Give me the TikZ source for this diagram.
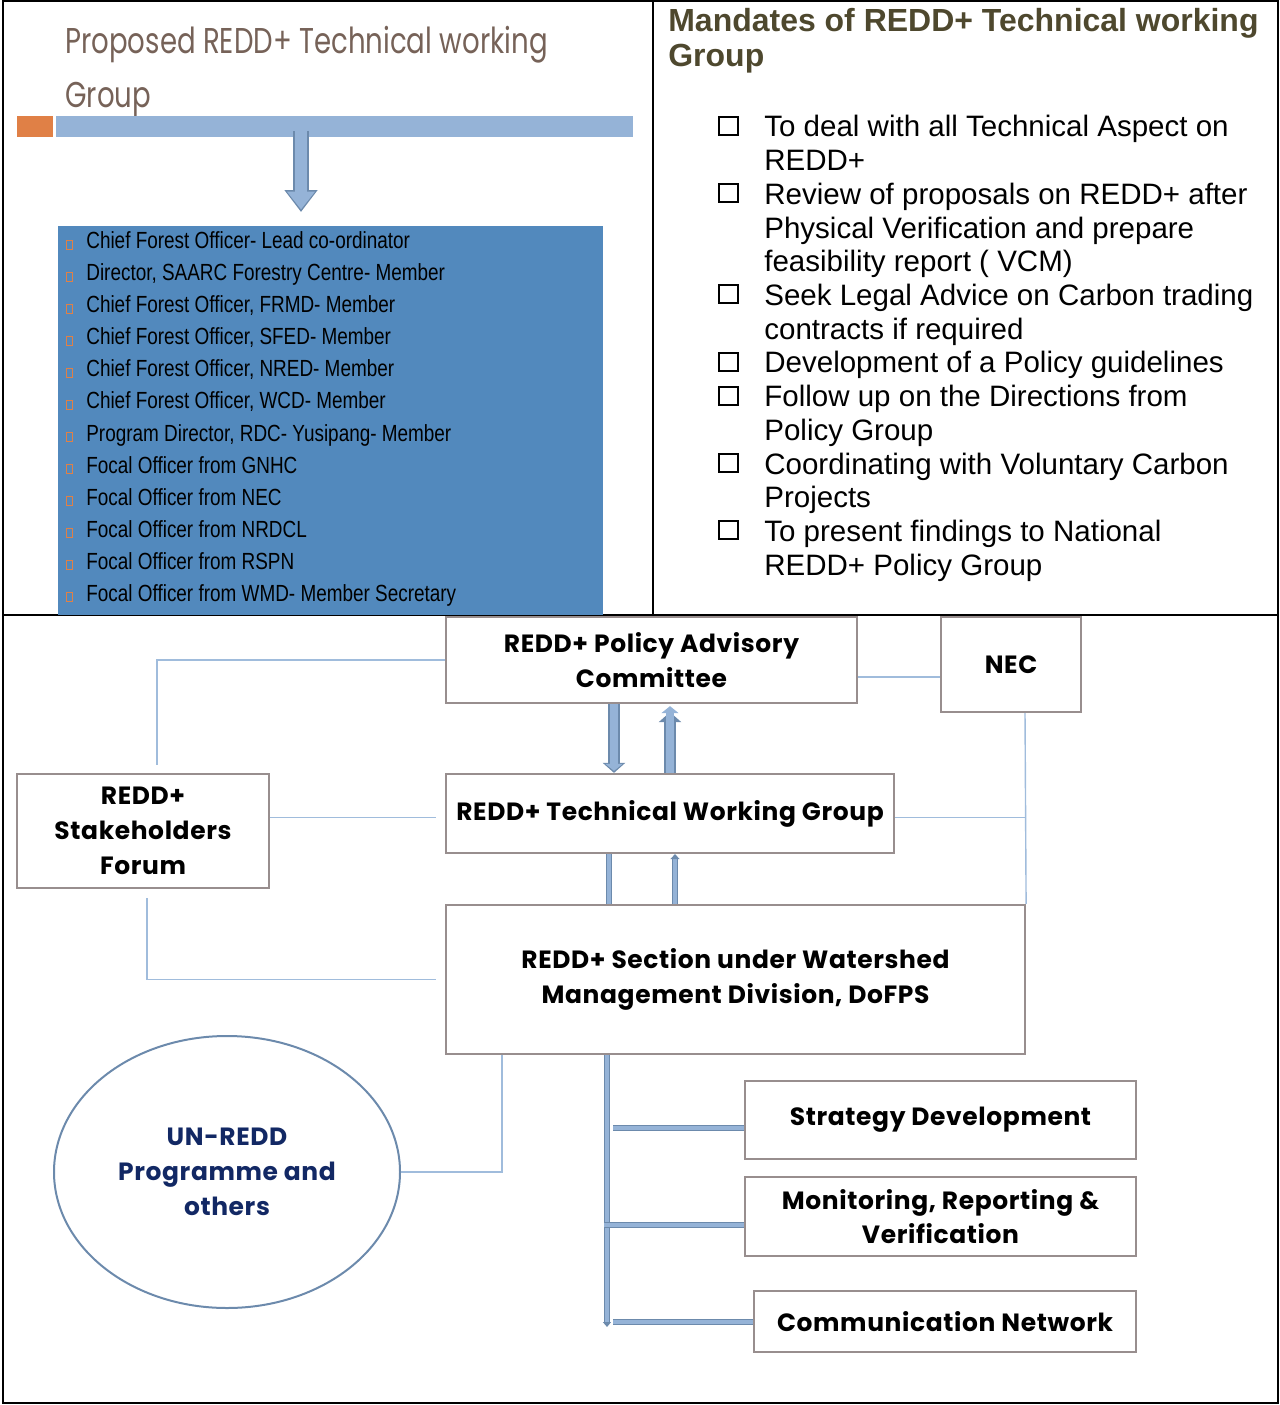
\documentclass[tikz,border=0pt]{standalone}
\usepackage{fontspec}
\setmainfont{Liberation Sans}
\newfontfamily\gothicfont[LetterSpace=2.5]{Poppins}
\newfontfamily\narrowfont[FakeStretch=0.81]{Liberation Sans}
\newfontfamily\slidefont[FakeStretch=0.77]{Poppins}
\usetikzlibrary{positioning,arrows.meta,calc,shapes.geometric}

\definecolor{barblue}{RGB}{149,179,215}
\definecolor{taborange}{RGB}{224,128,70}
\definecolor{listblue}{RGB}{82,137,189}
\definecolor{slidebrown}{RGB}{118,98,88}
\definecolor{mandolive}{RGB}{78,72,46}
\definecolor{boxedge}{RGB}{152,142,142}
\definecolor{linkblue}{RGB}{160,188,220}
\definecolor{arrowedge}{RGB}{108,138,172}
\definecolor{arrowfill}{RGB}{149,179,215}
\definecolor{unnavy}{RGB}{18,40,100}

\newlength{\unitpx}
\setlength{\unitpx}{0.02cm}
\newcommand{\boxfont}{\gothicfont\bfseries\fontsize{14.2}{19.8}\selectfont}

\begin{document}
\begin{tikzpicture}[x=0.02cm,y=-0.02cm,
		box/.style={draw=boxedge, line width=2.2\unitpx, inner sep=0pt, align=center, font=\boxfont},
		link/.style={draw=linkblue, line width=1.4\unitpx},
		pipe/.style={draw=arrowedge, double=arrowfill, double distance=3.5\unitpx, line width=1.3\unitpx},
		midarrow/.style={draw=arrowedge, line width=12\unitpx, -{Triangle[length=5.7pt,width=12.5pt]},
			postaction={draw=arrowfill, line width=8\unitpx, shorten >=2\unitpx, -{Triangle[length=4pt,width=9.6pt]}}},
		bigarrow/.style={draw=arrowedge, line width=16\unitpx, -{Triangle[length=12.5pt,width=18.1pt]},
			postaction={draw=arrowfill, line width=12.5\unitpx, shorten >=2.5\unitpx, -{Triangle[length=10.2pt,width=15.3pt]}}},
		dot/.style={draw=taborange, line width=0.8\unitpx, minimum width=6\unitpx, minimum height=9\unitpx, inner sep=0pt},
		tick/.style={draw=black, line width=2\unitpx, minimum width=19\unitpx, minimum height=18\unitpx, inner sep=0pt},
		frame/.style={draw=black, line width=2\unitpx}]

	\useasboundingbox (0,0) rectangle (1279,1405);

	% panels
	\draw[frame] (3,1) rectangle (1278,1403);
	\draw[frame] (3,615) -- (1278,615);
	\draw[frame] (653,1) -- (653,615);

	% proposed group (left slide)
	\node[anchor=base west, inner sep=0pt, text=slidebrown, font=\slidefont\fontsize{20.4}{30}\selectfont] (slidetitle) at (65,54) {Proposed REDD+ Technical working};
	\node[anchor=base west, inner sep=0pt, text=slidebrown, font=\slidefont\fontsize{20.4}{30}\selectfont] (slidetitle2) at (65,108) {Group};
	\node[fill=taborange, minimum width=36\unitpx, minimum height=21\unitpx, inner sep=0pt] (tab) at (35,126.5) {};
	\node[fill=barblue, minimum width=577\unitpx, minimum height=21\unitpx, inner sep=0pt] (bar) at (344.5,126.5) {};
	\node[fill=listblue, minimum width=545\unitpx, minimum height=389\unitpx, inner sep=0pt] (members) at (330.5,420.5) {};
	\coordinate (arrtop) at (301,131);
	\coordinate (arrtip) at (301,212);
	\draw[bigarrow] (arrtop) -- (arrtip);

	\foreach \txt [count=\i] in {Chief Forest Officer- Lead co-ordinator, {Director, SAARC Forestry Centre- Member},
		{Chief Forest Officer, FRMD- Member}, {Chief Forest Officer, SFED- Member}, {Chief Forest Officer, NRED- Member},
		{Chief Forest Officer, WCD- Member}, {Program Director, RDC- Yusipang- Member}, Focal Officer from GNHC,
		Focal Officer from NEC, Focal Officer from NRDCL, Focal Officer from RSPN, Focal Officer from WMD- Member Secretary}
	{
		\node[dot] (b\i) at (69,245+32*\i-32) {};
		\node[anchor=base west, inner sep=0pt, font=\narrowfont\fontsize{13.3}{16}\selectfont] (m\i) at (86,249+32*\i-32) {\txt};
	}

	% mandates (right slide)
	\node[anchor=base west, inner sep=0pt, text=mandolive, font=\bfseries\fontsize{18.2}{20}\selectfont] (mandtitle) at (668,32) {Mandates of REDD+ Technical working};
	\node[anchor=base west, inner sep=0pt, text=mandolive, font=\bfseries\fontsize{18.2}{20}\selectfont] (mandtitle2) at (668,67) {Group};
	\foreach \txt/\chk [count=\i] in {To deal with all Technical Aspect on/1, REDD+/0, Review of proposals on REDD+ after/1,
		Physical Verification and prepare/0, feasibility report ( VCM)/0, Seek Legal Advice on Carbon trading/1,
		contracts if required/0, Development of a Policy guidelines/1, Follow up on the Directions from/1,
		Policy Group/0, Coordinating with Voluntary Carbon/1, Projects/0, To present findings to National/1, REDD+ Policy Group/0}
	{
		\node[anchor=base west, inner sep=0pt, font=\fontsize{16.8}{19}\selectfont] (duty\i) at (764,137+33.7*\i-33.7) {\txt};
		\ifnum\chk=1 \node[tick] (tick\i) at (728,126+33.7*\i-33.7) {}; \fi
	}

	% organisation chart
	\node[box, minimum width=411\unitpx, minimum height=86\unitpx] (pac) at (651.5,660) {REDD+ Policy Advisory\\Committee};
	\node[box, minimum width=140\unitpx, minimum height=95\unitpx] (nec) at (1011,664.5) {NEC};
	\node[box, minimum width=252\unitpx, minimum height=114\unitpx] (forum) at (143,831) {REDD+\\Stakeholders\\Forum};
	\node[box, minimum width=448\unitpx, minimum height=79\unitpx] (twg) at (670,813.5) {REDD+ Technical Working Group};
	\node[box, minimum width=579\unitpx, minimum height=149\unitpx] (wmd) at (735.5,979.5) {REDD+ Section under Watershed\\Management Division, DoFPS};
	\node[box, minimum width=391\unitpx, minimum height=78\unitpx] (strat) at (940.5,1120) {Strategy Development};
	\node[box, minimum width=391\unitpx, minimum height=79\unitpx] (mrv) at (940.5,1216.5) {Monitoring, Reporting \&\\Verification};
	\node[box, minimum width=382\unitpx, minimum height=61\unitpx] (comm) at (945,1321.5) {Communication Network};
	\node[ellipse, draw=arrowedge, line width=2\unitpx, minimum width=346\unitpx, minimum height=272\unitpx, inner sep=0pt,
		align=center, text=unnavy, font=\boxfont] (unredd) at (227,1172) {UN-REDD\\Programme and\\others};

	% thin links
	\coordinate (forumtop) at (157,765);
	\draw[link] ([yshift=-17\unitpx]pac.east) -- ([yshift=-17\unitpx]pac.east -| nec.west);
	\draw[link] (pac.west) -| (forumtop);
	\draw[link] ([yshift=-4\unitpx]forum.east |- twg.west) -- ([xshift=-9\unitpx,yshift=-4\unitpx]twg.west);
	\draw[link] ([yshift=-4\unitpx]twg.east) -- ([yshift=-4\unitpx]twg.east -| wmd.north east);
	\draw[link] ([xshift=14\unitpx]nec.south) -- (wmd.north east);
	\draw[link] ([xshift=4\unitpx,yshift=-9\unitpx]forum.south) |- ([xshift=-9\unitpx]wmd.west);
	\draw[link] ([xshift=-233.5\unitpx]wmd.south) |- (unredd.east);

	% block arrows
	\coordinate (downx) at (614,0);
	\coordinate (upx) at (670,0);
	\coordinate (leftx) at (609,0);
	\coordinate (rightx) at (675,0);
	\draw[midarrow] (pac.south -| downx) -- (twg.north -| downx);
	\draw[midarrow, shorten >=8\unitpx] (twg.north -| upx) -- (pac.south -| upx);
	\draw[pipe] (twg.south -| leftx) -- (wmd.north -| leftx);
	\draw[pipe, -{Triangle[length=2.8pt,width=5.1pt]}] (wmd.north -| rightx) -- (twg.south -| rightx);

	% trunk to the units
	\coordinate (trunkx) at (607,0);
	\coordinate (trunkend) at (607,1327);
	\coordinate (j1) at (613,1128);
	\coordinate (j2) at (604,1225);
	\coordinate (j3) at (613,1322);
	\draw[pipe, -{Triangle[length=2.8pt,width=4.5pt]}] (wmd.south -| trunkx) -- (trunkend);
	\draw[pipe] (j1) -- (j1 -| strat.west);
	\draw[pipe] (j2) -- (j2 -| mrv.west);
	\draw[pipe] (j3) -- (j3 -| comm.west);
\end{tikzpicture}
\end{document}
